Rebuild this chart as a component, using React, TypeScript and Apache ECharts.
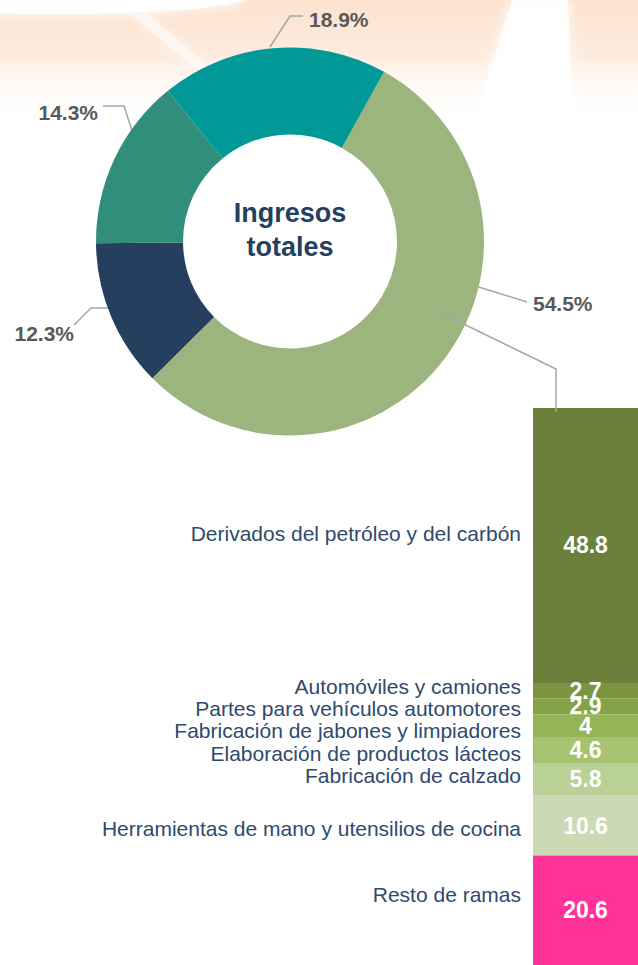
import React, { useEffect, useRef } from "react";
import * as echarts from "echarts";

// ---------- data ----------
const donutNames = ["Sector A", "Sector B", "Sector C", "Sector D"];
const donutValues = [54.5, 12.3, 14.3, 18.9];

const branchNames = [
  "Derivados del petróleo y del carbón",
  "Automóviles y camiones",
  "Partes para vehículos automotores",
  "Fabricación de jabones y limpiadores",
  "Elaboración de productos lácteos",
  "Fabricación de calzado",
  "Herramientas de mano y utensilios de cocina",
  "Resto de ramas",
];
const branchValues = [48.8, 2.7, 2.9, 4, 4.6, 5.8, 10.6, 20.6];

const centerTitle = "Ingresos\ntotales";

// ---------- styles / layout ----------
const FONT = "'Liberation Sans', Arial, Helvetica, sans-serif";
const donutColors = ["#9CB47E", "#263F5F", "#318E7B", "#009998"];
const branchColors = ["#6B803A", "#7A943F", "#85A247", "#93B556", "#A6C370", "#B9D096", "#CBDAB4", "#FF3399"];
const branchLabelDy = [-12, -4.5, 2.5, 5, 3, -3.5, 2.5, -16];
const LEADER = "#A6A6A6";

const pieLabelLayout = [
  { x: 533, y: 303, align: "left", line: [[462, 282], [495, 292], [527, 302]] },
  { x: 74, y: 333, align: "right", line: [[110, 308], [91, 308], [74, 325]] },
  { x: 98, y: 112, align: "right", line: [[134, 137], [124, 106], [103, 106]] },
  { x: 309, y: 19, align: "left", line: [[270, 47], [290, 16], [303, 16]] },
];

// the stacked bar runs past the bottom edge of the picture; the visible part covers 0..AXIS_MAX
const BAR_TOP = 408;
const BAR_HEIGHT = 557;
const AXIS_MAX = 98.85;

export default function App() {
  const ref = useRef<HTMLDivElement>(null);

  useEffect(() => {
    document.body.style.margin = "0";
    if (!ref.current) return;
    const chart = echarts.init(ref.current, null, { renderer: "svg" });

    const valueSeries = branchValues.map((v, i) => ({
      type: "bar",
      name: branchNames[i],
      stack: "total",
      xAxisIndex: 0,
      yAxisIndex: 0,
      barWidth: "100%",
      silent: true,
      clip: true,
      data: [v],
      itemStyle: { color: branchColors[i] },
      label: {
        show: true,
        position: "inside",
        formatter: (p: any) => String(p.value),
        color: "#FFFFFF",
        fontSize: 23,
        fontWeight: "bold",
        fontFamily: FONT,
        lineHeight: 14,
      },
    }));

    const nameSeries = branchValues.map((v, i) => ({
      type: "bar",
      name: branchNames[i] + " ",
      stack: "names",
      xAxisIndex: 1,
      yAxisIndex: 1,
      barWidth: "100%",
      silent: true,
      clip: true,
      data: [v],
      itemStyle: { color: "rgba(0,0,0,0)" },
      label: {
        show: true,
        position: "insideRight",
        distance: 0,
        offset: [0, branchLabelDy[i]],
        formatter: () => branchNames[i],
        color: "#2E4A6E",
        fontSize: 21,
        lineHeight: 18,
        fontFamily: FONT,
      },
    }));

    const option: any = {
      animation: false,
      tooltip: { show: false },
      graphic: [
        {
          type: "rect",
          z: -10,
          shape: { x: 0, y: 0, width: 638, height: 125 },
          style: {
            fill: {
              type: "linear",
              x: 0, y: 0, x2: 0, y2: 1,
              colorStops: [
                { offset: 0, color: "#FCE2CD" },
                { offset: 0.45, color: "#FDECDF" },
                { offset: 1, color: "rgba(255,255,255,0)" },
              ],
            },
          },
          silent: true,
        },
        {
          type: "ellipse",
          z: -9,
          shape: { cx: 60, cy: -4, rx: 190, ry: 18 },
          style: { fill: "rgba(255,255,255,0.95)", shadowBlur: 12, shadowColor: "rgba(255,255,255,1)" },
          silent: true,
        },
        {
          type: "polygon",
          z: -9,
          shape: { points: [[512, 0], [568, 0], [572, 110], [478, 110]] },
          style: { fill: "rgba(255,255,255,0.9)", shadowBlur: 14, shadowColor: "rgba(255,255,255,1)" },
          silent: true,
        },
        {
          type: "polygon",
          z: -9,
          shape: { points: [[130, 14], [148, 14], [212, 70], [200, 72]] },
          style: { fill: "rgba(255,255,255,0.45)", shadowBlur: 8, shadowColor: "rgba(255,255,255,1)" },
          silent: true,
        },
        {
          type: "text",
          z: 10,
          x: 290,
          y: 230,
          style: {
            text: centerTitle,
            fill: "#243F60",
            fontSize: 27,
            fontWeight: "bold",
            fontFamily: FONT,
            align: "center",
            verticalAlign: "middle",
            lineHeight: 34,
          },
          silent: true,
        },
        {
          type: "polyline",
          z: 10,
          shape: { points: [[437, 311], [556, 369], [556, 412]] },
          style: { stroke: LEADER, lineWidth: 1.5, fill: "none" },
          silent: true,
        },
      ],
      grid: [
        { left: 533, width: 105, top: BAR_TOP, height: BAR_HEIGHT },
        { left: 0, width: 521, top: BAR_TOP, height: BAR_HEIGHT },
      ],
      xAxis: [
        { type: "category", gridIndex: 0, data: ["total"], show: false },
        { type: "category", gridIndex: 1, data: ["total"], show: false },
      ],
      yAxis: [
        { type: "value", gridIndex: 0, min: 0, max: AXIS_MAX, inverse: true, show: false },
        { type: "value", gridIndex: 1, min: 0, max: AXIS_MAX, inverse: true, show: false },
      ],
      series: [
        {
          type: "pie",
          center: [290, 241.5],
          radius: [107, 194],
          startAngle: 61,
          clockwise: true,
          avoidLabelOverlap: false,
          silent: true,
          emphasis: { disabled: true },
          data: donutValues.map((v, i) => ({
            name: donutNames[i],
            value: v,
            itemStyle: { color: donutColors[i] },
          })),
          label: {
            show: true,
            formatter: (p: any) => Number(p.value).toFixed(1) + "%",
            color: "#595959",
            fontSize: 21,
            fontWeight: "bold",
            fontFamily: FONT,
          },
          labelLine: { show: true, length: 10, length2: 10, lineStyle: { color: LEADER, width: 1.5 } },
          labelLayout: (params: any) => {
            const p = pieLabelLayout[params.dataIndex];
            return {
              x: p.x,
              y: p.y,
              align: p.align,
              verticalAlign: "middle",
              labelLinePoints: p.line,
            };
          },
        },
        ...valueSeries,
        ...nameSeries,
      ],
    };

    chart.setOption(option);
    return () => chart.dispose();
  }, []);

  return <div ref={ref} style={{ width: 638, height: 965 }} />;
}
